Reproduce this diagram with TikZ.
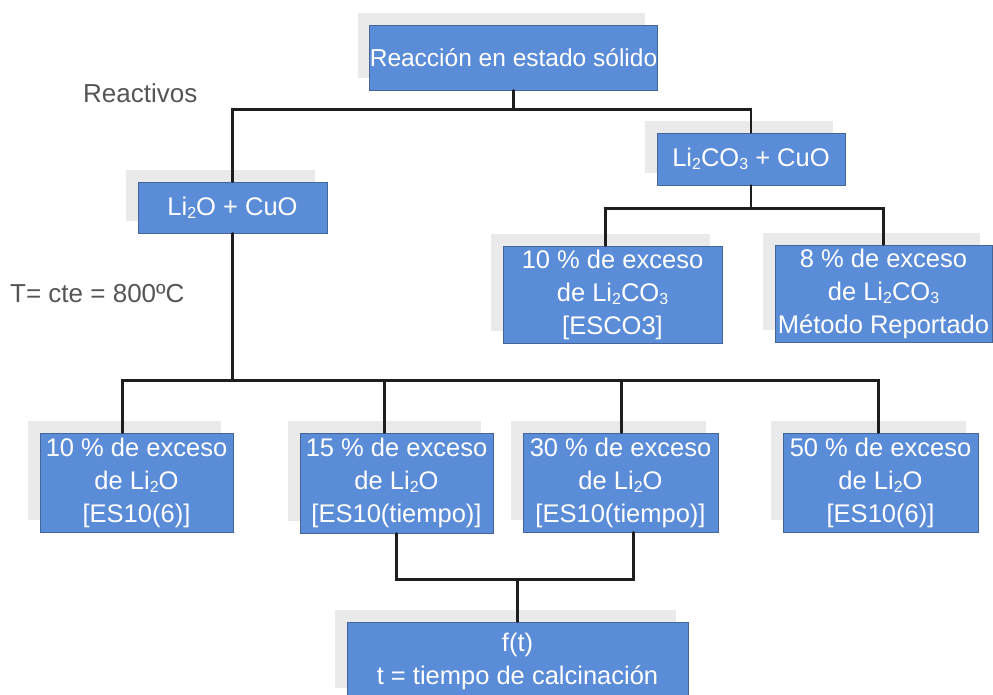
\documentclass[tikz,border=0pt]{standalone}
\usepackage{fontspec}
\setmainfont{Liberation Sans}
\usetikzlibrary{shadows}
\definecolor{boxblue}{HTML}{5B8CD7}
\definecolor{boxedge}{HTML}{44659A}
\definecolor{shadowgray}{HTML}{EAEAEA}
\definecolor{labelgray}{HTML}{555555}
\definecolor{linedark}{HTML}{1E1E1E}
\newcommand{\sbs}[1]{\raisebox{-0.12em}{\fontsize{16}{16}\selectfont #1}}
\begin{document}
\begin{tikzpicture}[x=1pt,y=-1pt,
  stepbox/.style={rectangle, fill=boxblue, draw=boxedge, line width=0.8pt,
    text=white, align=center, inner sep=0pt,
    font=\fontsize{25.5}{33}\selectfont,
    general shadow={fill=shadowgray, draw=none, shadow xshift=-12pt, shadow yshift=12pt}},
  lbl/.style={text=labelgray, inner sep=0pt, font=\fontsize{26}{30}\selectfont},
  conn/.style={draw=linedark, line width=2.6pt, line cap=round, line join=miter}]
\useasboundingbox (0,0) rectangle (993,694);

\node[stepbox, minimum width=281pt, minimum height=65pt, font=\fontsize{24.5}{33}\selectfont] (top) at (513.5,57.5) {Reacción en estado sólido};
\node[stepbox, minimum width=188pt, minimum height=52pt] (lco) at (751,159) {Li\sbs{2}CO\sbs{3} + CuO};
\node[stepbox, minimum width=189pt, minimum height=51pt] (lio) at (232.5,207.5) {Li\sbs{2}O + CuO};
\node[stepbox, minimum width=219pt, minimum height=97pt] (esco) at (612.5,294.5) {10 \% de exceso\\de Li\sbs{2}CO\sbs{3}\\{[ESCO3]}};
\node[stepbox, minimum width=217pt, minimum height=97pt] (met) at (883.5,293.5) {8 \% de exceso\\de Li\sbs{2}CO\sbs{3}\\Método Reportado};
\node[stepbox, minimum width=193pt, minimum height=99pt] (ba) at (136.5,482.5) {10 \% de exceso\\de Li\sbs{2}O\\{[ES10(6)]}};
\node[stepbox, minimum width=193pt, minimum height=100pt] (bb) at (396.5,483) {15 \% de exceso\\de Li\sbs{2}O\\{[ES10(tiempo)]}};
\node[stepbox, minimum width=195pt, minimum height=99pt] (bc) at (620.5,482.5) {30 \% de exceso\\de Li\sbs{2}O\\{[ES10(tiempo)]}};
\node[stepbox, minimum width=195pt, minimum height=99pt] (bd) at (880.5,482.5) {50 \% de exceso\\de Li\sbs{2}O\\{[ES10(6)]}};
\node[stepbox, minimum width=341pt, minimum height=78pt] (ft) at (517.5,661) {f(t)\\t = tiempo de calcinación};

\node[lbl, anchor=west] (reac) at (83,93) {Reactivos};
\node[lbl, anchor=west] (temp) at (10,294) {T= cte = 800ºC};

% connectors
\path (top.south) -- ++(0,19) coordinate (j1);
\draw[conn] (top.south) -- (j1);
\draw[conn] (lio.north) |- (j1) -| (lco.north);

\path (lco.south) -- ++(0,23) coordinate (j2);
\draw[conn] (lco.south) -- (j2);
\draw[conn] ([xshift=-7pt]esco.north) |- (j2) -| (met.north);

\path (lio.south) -- ++(0,147) coordinate (j3);
\draw[conn] (lio.south) -- (j3);
\draw[conn] ([xshift=-14pt]ba.north) |- (j3) -| ([xshift=-2pt]bd.north);
\draw[conn] ([xshift=-12pt]bb.north) -- ([xshift=-12pt]bb.north |- j3);
\draw[conn] ([xshift=1pt]bc.north) -- ([xshift=1pt]bc.north |- j3);

\path (ft.north) -- ++(0,-42) coordinate (j4);
\draw[conn] (bb.south) |- (j4) -| ([xshift=13pt]bc.south);
\draw[conn] (ft.north) -- (j4);
\end{tikzpicture}
\end{document}
